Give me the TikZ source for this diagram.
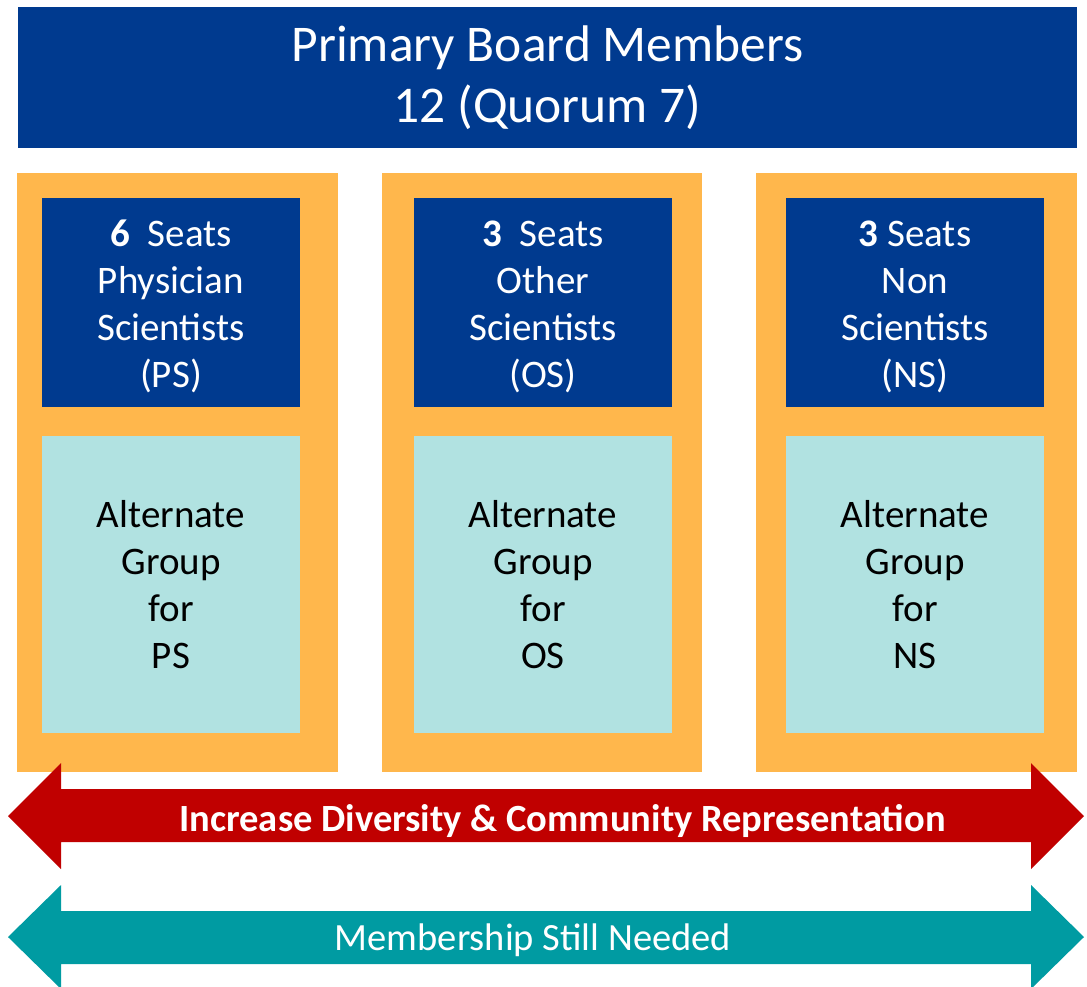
\documentclass[tikz,border=0pt]{standalone}
\usepackage{fontspec}
\setmainfont{Carlito}
\usepackage{tikz}
\usetikzlibrary{positioning}
\definecolor{boardblue}{RGB}{0,58,143}
\definecolor{seatorange}{RGB}{255,183,76}
\definecolor{altcyan}{RGB}{177,226,225}
\definecolor{divred}{RGB}{192,0,0}
\definecolor{needteal}{RGB}{0,155,162}
\tikzstyle{seats}=[text=white,inner sep=0pt,align=center,font=\fontsize{39}{47}\selectfont]
\tikzstyle{alternate}=[fill=altcyan,text=black,minimum width=258pt,minimum height=297pt,inner sep=0pt,align=center,font=\fontsize{39}{47}\selectfont]

\begin{document}
\begin{tikzpicture}[x=1pt,y=-1pt]
\useasboundingbox (0,0) rectangle (1087,986);
\tikzstyle{frame}=[fill=seatorange]
\tikzstyle{banner}=[text=white,font=\fontsize{38.5}{42}\selectfont]
% primary board
\node [fill=boardblue,text=white,minimum width=1059pt,minimum height=141pt,inner sep=0pt,
       align=center,font=\fontsize{51.5}{61}\selectfont] (board) at (547.5,77.5)
      {Primary Board Members\\12 (Quorum 7)};
% the three seat groups
\fill [frame] (17,173) rectangle (338,772);
\fill [frame] (382,173) rectangle (702,772);
\fill [frame] (756,173) rectangle (1077,772);
\fill [boardblue] (42,198) rectangle (300,407);
\fill [boardblue] (414,198) rectangle (672,407);
\fill [boardblue] (786,198) rectangle (1044,407);
\node [seats] (ps) at (171,306.5) {\textbf{6}\ \ Seats\\Physician\\Scientists\\(PS)};
\node [seats] (os) at (543,306.5) {\textbf{3}\ \ Seats\\Other\\Scientists\\(OS)};
\node [seats] (ns) at (915,306.5) {\textbf{3} Seats\\Non\\Scientists\\(NS)};
\node [alternate] (aps) at (171,584.5) {Alternate\\Group\\for\\PS};
\node [alternate] (aos) at (543,584.5) {Alternate\\Group\\for\\OS};
\node [alternate] (ans) at (915,584.5) {Alternate\\Group\\for\\NS};
% two-headed banners
\fill [divred] (8,816) -- (61,763) -- (61,789) -- (1031,789) -- (1031,763) -- (1084,816)
      -- (1031,869) -- (1031,842) -- (61,842) -- (61,869) -- cycle;
\node [banner,font=\fontsize{38.5}{42}\selectfont\bfseries] (diversity) at (562.5,821)
      {Increase Diversity \& Community Representation};
\fill [needteal] (8,937) -- (61,885) -- (61,911) -- (1031,911) -- (1031,885) -- (1084,937)
      -- (1031,989) -- (1031,964) -- (61,964) -- (61,989) -- cycle;
\node [banner] (needed) at (533,940) {Membership Still Needed};
\end{tikzpicture}
\end{document}
